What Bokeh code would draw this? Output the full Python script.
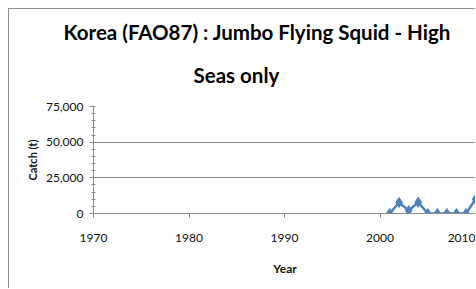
from bokeh.plotting import figure
from bokeh.models import NumeralTickFormatter, FixedTicker, Range1d, Title
from bokeh.embed import file_html
from bokeh.resources import INLINE

years = [2001, 2002, 2003, 2004, 2005, 2006, 2007, 2008, 2009, 2010]
catch = [0, 7700, 2000, 7900, 0, 0, 0, 0, 0, 10000]
x_ticks = [1970, 1980, 1990, 2000, 2010]
y_ticks = [0, 25000, 50000, 75000]
title_lines = ["Korea (FAO87) : Jumbo Flying Squid - High", "Seas only"]

FONT = "Lato"

p = figure(width=467, height=280, output_backend="svg", toolbar_location=None,
           x_range=Range1d(1970, 2010.1), y_range=Range1d(0, 75000),
           min_border_left=84, min_border_right=0, min_border_top=97, min_border_bottom=76,
           title=None)
p.styles = {"margin-left": "8px", "margin-top": "8px",
            "border-left": "1px solid #8f8f8f", "border-top": "1px solid #8f8f8f"}
p.outline_line_color = None
p.background_fill_color = "white"

# second line first (closest to the frame), then first line above it
for t, off, so in [(title_lines[1], 100, 40), (title_lines[0], -30, -6)]:
    p.add_layout(Title(text=t, align="left", offset=off, standoff=so,
                       text_font=FONT, text_font_style="bold", text_font_size="20.5px",
                       text_color="#000000"), "above")

p.line(years, catch, line_color="#4F81BD", line_width=2.5)
p.scatter(years, catch, marker="diamond", size=10, fill_color="#4F81BD", line_color="#4F81BD")

p.xaxis.ticker = FixedTicker(ticks=x_ticks)
p.yaxis.ticker = FixedTicker(ticks=y_ticks, minor_ticks=list(range(0, 75001, 5000)))
p.yaxis.formatter = NumeralTickFormatter(format="0,0")
p.xgrid.visible = False
p.ygrid.grid_line_color = "#8c8c8c"
p.ygrid.grid_line_width = 1

for ax in (p.xaxis[0], p.yaxis[0]):
    ax.axis_line_color = "#8c8c8c"
    ax.major_tick_line_color = "#8c8c8c"
    ax.minor_tick_line_color = "#8c8c8c"
    ax.major_label_text_font = FONT
    ax.major_label_text_font_size = "12px"
    ax.major_label_text_color = "#111111"
    ax.axis_label_text_font = FONT
    ax.axis_label_text_font_style = "bold"
    ax.axis_label_text_color = "#111111"

p.xaxis.axis_label = "Year"
p.xaxis.axis_label_text_font_size = "12px"
p.xaxis.major_tick_in = 0
p.xaxis.major_tick_out = 4
p.xaxis.minor_tick_out = 0
p.xaxis.minor_tick_in = 0
p.xaxis.major_label_standoff = 16
p.xaxis.axis_label_standoff = 16

p.yaxis.axis_label = "Catch (t)"
p.yaxis.axis_label_text_font_size = "11px"
p.yaxis.major_tick_in = 0
p.yaxis.major_tick_out = 4
p.yaxis.minor_tick_in = 2
p.yaxis.minor_tick_out = 2
p.yaxis.major_label_standoff = 6
p.yaxis.axis_label_standoff = 4

open("out.html", "w").write(file_html(p, INLINE))
